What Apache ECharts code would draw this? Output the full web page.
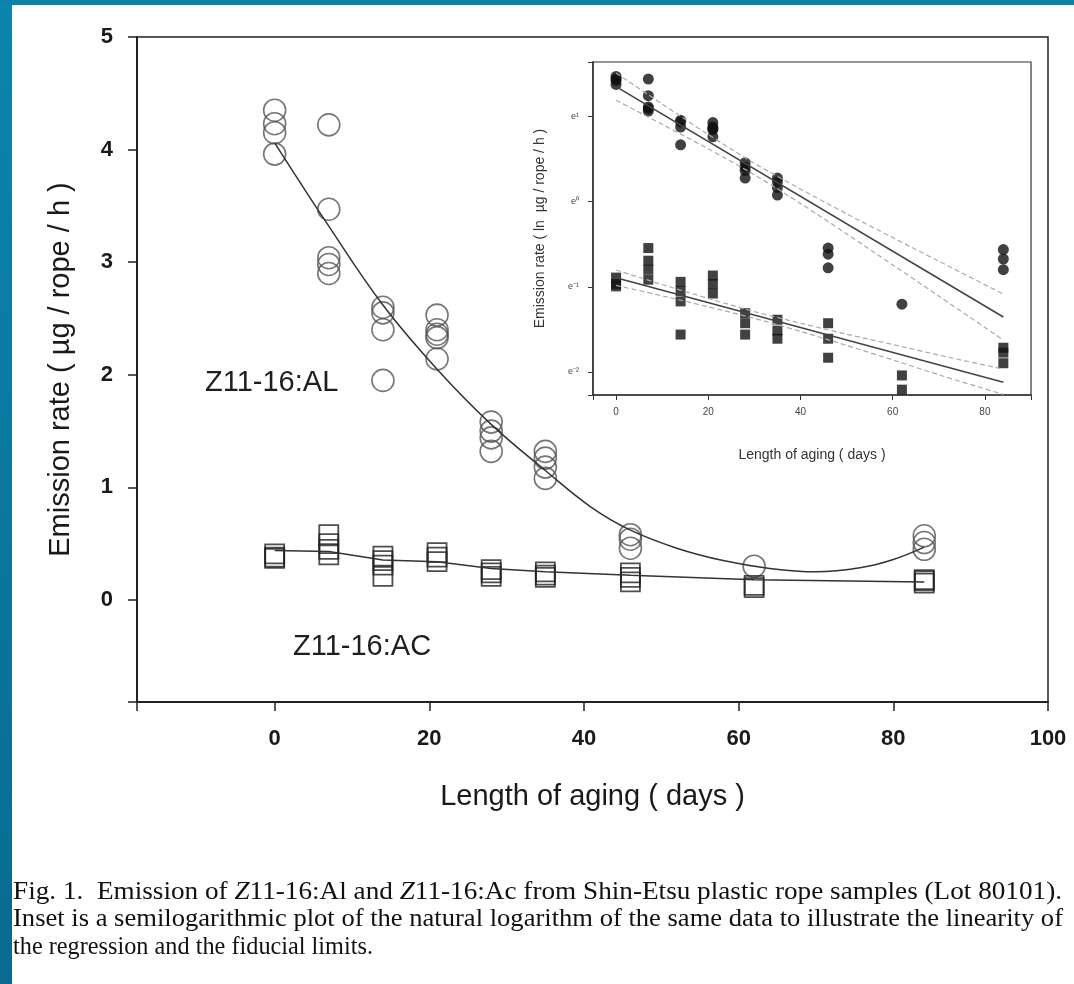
<!DOCTYPE html>
<html>
<head>
<meta charset="utf-8">
<script src="https://cdn.jsdelivr.net/npm/echarts@6/dist/echarts.min.js"></script>
<style>
  html, body { margin: 0; padding: 0; background: #fff; }
  #main { width: 1074px; height: 984px; }
</style>
</head>
<body>
<div id="main"></div>
<script>
// sampling days (length of aging)
var days = [0, 7, 14, 21, 28, 35, 46, 62, 84];

// Z11-16:Al emission rate (ug / rope / h), one list per sampling day
var alRates = [
  [4.35, 4.23, 4.15, 3.96],
  [4.22, 3.47, 3.04, 2.98, 2.90],
  [2.60, 2.55, 2.40, 1.95],
  [2.53, 2.40, 2.36, 2.33, 2.14],
  [1.58, 1.50, 1.44, 1.32],
  [1.32, 1.26, 1.18, 1.08],
  [0.58, 0.54, 0.46],
  [0.30],
  [0.57, 0.51, 0.45]
];

// Z11-16:Ac emission rate
var acRates = [
  [0.41, 0.38, 0.37],
  [0.58, 0.50, 0.45, 0.40],
  [0.39, 0.35, 0.31, 0.21],
  [0.42, 0.38, 0.34],
  [0.27, 0.24, 0.21],
  [0.25, 0.22, 0.20],
  [0.24, 0.20, 0.16],
  [0.13, 0.11],
  [0.18, 0.17, 0.15]
];

// fitted curves on the main plot
var alFitDays = [0, 7, 14, 21, 28, 35, 41, 46, 52, 58, 64, 70, 76, 80, 84];
var alFitRates = [4.06, 3.32, 2.62, 2.05, 1.56, 1.15, 0.82, 0.62, 0.46, 0.35, 0.28, 0.25, 0.29, 0.36, 0.47];
var acFitDays = [0, 7, 14, 21, 28, 35, 46, 62, 84];
var acFitRates = [0.44, 0.43, 0.355, 0.34, 0.28, 0.25, 0.22, 0.18, 0.16];

// inset: regressions and fiducial limits
var regDays = [0, 84];
var alReg = [3.86, 0.258];
var acReg = [0.409, 0.120];
var limDays = [0, 10, 20, 30, 40, 50, 60, 70, 84];
var alUpper = [4.53, 3.15, 2.20, 1.57, 1.16, 0.868, 0.656, 0.497, 0.338];
var alLower = [3.29, 2.48, 1.86, 1.37, 0.979, 0.685, 0.476, 0.330, 0.197];
var acUpper = [0.448, 0.378, 0.321, 0.275, 0.240, 0.211, 0.187, 0.165, 0.140];
var acLower = [0.374, 0.331, 0.291, 0.254, 0.218, 0.185, 0.156, 0.131, 0.104];

// caption
var captionLines = [
  'Fig. 1.  Emission of {i|Z}11-16:Al and {i|Z}11-16:Ac from Shin-Etsu plastic rope samples (Lot 80101).',
  'Inset is a semilogarithmic plot of the natural logarithm of the same data to illustrate the linearity of',
  'the regression and the fiducial limits.'
];
var captionWidths = [1052, 1050, 360];

var sans = 'Liberation Sans';
var serif = 'Liberation Serif';

function pairs(xs, lists) {
  var out = [];
  for (var i = 0; i < xs.length; i++) {
    for (var j = 0; j < lists[i].length; j++) out.push([xs[i], lists[i][j]]);
  }
  return out;
}
function zip(xs, ys) {
  return xs.map(function (x, i) { return [x, ys[i]]; });
}
function sup(n) {
  var m = {'-': '\u207B', '0': '\u2070', '1': '\u00B9', '2': '\u00B2', '3': '\u00B3'};
  return String(n).split('').map(function (c) { return m[c]; }).join('');
}

// measure caption text so it can be stretched to the printed width
var capSize = 25;
var ctx = document.createElement('canvas').getContext('2d');
ctx.font = capSize + 'px "' + serif + '"';
var captionEls = captionLines.map(function (t, i) {
  var w = ctx.measureText(t.replace(/\{i\|Z\}/g, 'Z')).width;
  return {
    type: 'text', x: 13, y: 892 + i * 27.5, scaleX: captionWidths[i] / w,
    style: {
      text: t, fontSize: capSize, fontFamily: serif, fill: '#111', verticalAlign: 'middle',
      rich: { i: { fontStyle: 'italic', fontSize: capSize, fontFamily: serif, fill: '#111' } }
    }
  };
});

var chart = echarts.init(document.getElementById('main'));

var option = {
  animation: false,
  backgroundColor: '#fff',
  grid: [
    { left: 137, right: 26, top: 37, bottom: 282, show: true, borderColor: '#222', borderWidth: 1.5 },
    { left: 593, right: 43, top: 62, bottom: 589, show: true, borderColor: '#333', borderWidth: 1.2, backgroundColor: '#fff' }
  ],
  xAxis: [
    {
      gridIndex: 0, type: 'value', min: -17.8, max: 100,
      axisLine: { show: true, onZero: false, lineStyle: { color: '#222', width: 2 } },
      axisTick: { show: true, length: 9, lineStyle: { color: '#222', width: 1.5 } },
      splitLine: { show: false },
      axisLabel: {
        margin: 26, fontSize: 22, fontWeight: 'bold', fontFamily: sans, color: '#1a1a1a',
        formatter: function (v) { return Math.abs(v % 20) < 1e-6 ? String(v) : ''; }
      },
      name: 'Length of aging ( days )', nameLocation: 'middle', nameGap: 80,
      nameTextStyle: { fontSize: 29, fontFamily: sans, color: '#1a1a1a' }
    },
    {
      gridIndex: 1, type: 'value', min: -5, max: 90,
      axisLine: { show: true, onZero: false, lineStyle: { color: '#333', width: 1.5 } },
      axisTick: { show: true, length: 5, lineStyle: { color: '#333' } },
      splitLine: { show: false },
      axisLabel: {
        margin: 12, fontSize: 10, fontFamily: sans, color: '#444',
        formatter: function (v) { return Math.abs(v % 20) < 1e-6 ? String(v) : ''; }
      },
      name: 'Length of aging ( days )', nameLocation: 'middle', nameGap: 53,
      nameTextStyle: { fontSize: 14, fontFamily: sans, color: '#333' }
    }
  ],
  yAxis: [
    {
      gridIndex: 0, type: 'value', min: -0.906, max: 5,
      axisLine: { show: true, onZero: false, lineStyle: { color: '#222', width: 2 } },
      axisTick: { show: true, length: 9, lineStyle: { color: '#222', width: 1.5 } },
      splitLine: { show: false },
      axisLabel: {
        margin: 24, fontSize: 22, fontWeight: 'bold', fontFamily: sans, color: '#1a1a1a',
        formatter: function (v) { return Math.abs(v - Math.round(v)) < 1e-6 ? String(Math.round(v)) : ''; }
      },
      name: 'Emission rate ( \u00B5g / rope / h )', nameLocation: 'middle', nameGap: 62,
      nameTextStyle: { fontSize: 29, fontFamily: sans, color: '#1a1a1a' }
    },
    {
      gridIndex: 1, type: 'log', logBase: Math.E, min: 0.1033, max: 5.155,
      axisLine: { show: true, onZero: false, lineStyle: { color: '#333', width: 1.5 } },
      axisTick: { show: true, length: 5, lineStyle: { color: '#333' } },
      splitLine: { show: false },
      axisLabel: {
        margin: 14, fontSize: 9, fontFamily: sans, color: '#444',
        formatter: function (v) {
          var n = Math.log(v), r = Math.round(n);
          return Math.abs(n - r) < 0.01 ? 'e' + sup(r) : '';
        }
      },
      name: 'Emission rate ( ln  \u00B5g / rope / h )', nameLocation: 'middle', nameGap: 46,
      nameTextStyle: { fontSize: 14, fontFamily: sans, color: '#333' }
    }
  ],
  series: [
    {
      type: 'line', xAxisIndex: 0, yAxisIndex: 0, data: zip(alFitDays, alFitRates),
      smooth: 0.4, showSymbol: false, lineStyle: { color: '#333', width: 1.5 }
    },
    {
      type: 'line', xAxisIndex: 0, yAxisIndex: 0, data: zip(acFitDays, acFitRates),
      showSymbol: false, lineStyle: { color: '#333', width: 1.5 }
    },
    {
      type: 'scatter', xAxisIndex: 0, yAxisIndex: 0, data: pairs(days, alRates),
      symbol: 'circle', symbolSize: 22,
      itemStyle: { color: 'rgba(0,0,0,0)', borderColor: '#555', borderWidth: 1.6 }
    },
    {
      type: 'scatter', xAxisIndex: 0, yAxisIndex: 0, data: pairs(days, acRates),
      symbol: 'rect', symbolSize: 19,
      itemStyle: { color: 'rgba(0,0,0,0)', borderColor: '#222', borderWidth: 1.8 }
    },
    // inset
    {
      type: 'line', xAxisIndex: 1, yAxisIndex: 1, data: zip(limDays, alUpper),
      smooth: 0.3, showSymbol: false, lineStyle: { color: '#aaa', width: 1.2, type: [5, 3] }
    },
    {
      type: 'line', xAxisIndex: 1, yAxisIndex: 1, data: zip(limDays, alLower),
      smooth: 0.3, showSymbol: false, lineStyle: { color: '#aaa', width: 1.2, type: [5, 3] }
    },
    {
      type: 'line', xAxisIndex: 1, yAxisIndex: 1, data: zip(limDays, acUpper),
      smooth: 0.3, showSymbol: false, lineStyle: { color: '#aaa', width: 1.2, type: [5, 3] }
    },
    {
      type: 'line', xAxisIndex: 1, yAxisIndex: 1, data: zip(limDays, acLower),
      smooth: 0.3, showSymbol: false, lineStyle: { color: '#aaa', width: 1.2, type: [5, 3] }
    },
    {
      type: 'line', xAxisIndex: 1, yAxisIndex: 1, data: zip(regDays, alReg),
      showSymbol: false, lineStyle: { color: '#444', width: 1.6 }
    },
    {
      type: 'line', xAxisIndex: 1, yAxisIndex: 1, data: zip(regDays, acReg),
      showSymbol: false, lineStyle: { color: '#444', width: 1.6 }
    },
    {
      type: 'scatter', xAxisIndex: 1, yAxisIndex: 1, data: pairs(days, alRates),
      symbol: 'circle', symbolSize: 11, itemStyle: { color: '#111' }
    },
    {
      type: 'scatter', xAxisIndex: 1, yAxisIndex: 1, data: pairs(days, acRates),
      symbol: 'rect', symbolSize: 10, itemStyle: { color: '#111' }
    }
  ],
  graphic: [
    {
      type: 'rect', shape: { x: 0, y: 0, width: 12, height: 984 }, z: 100,
      style: { fill: new echarts.graphic.LinearGradient(0, 0, 0, 1, [
        { offset: 0, color: '#0d84ad' }, { offset: 1, color: '#0a6a91' }]) }
    },
    { type: 'rect', shape: { x: 0, y: 0, width: 1074, height: 5 }, z: 100, style: { fill: '#0c82ab' } },
    {
      type: 'text', x: 205, y: 383,
      style: { text: 'Z11-16:AL', fontSize: 29, fontFamily: sans, fill: '#1e1e1e', verticalAlign: 'middle' }
    },
    {
      type: 'text', x: 293, y: 647,
      style: { text: 'Z11-16:AC', fontSize: 29, fontFamily: sans, fill: '#1e1e1e', verticalAlign: 'middle' }
    }
  ].concat(captionEls)
};

chart.setOption(option);
</script>
</body>
</html>
